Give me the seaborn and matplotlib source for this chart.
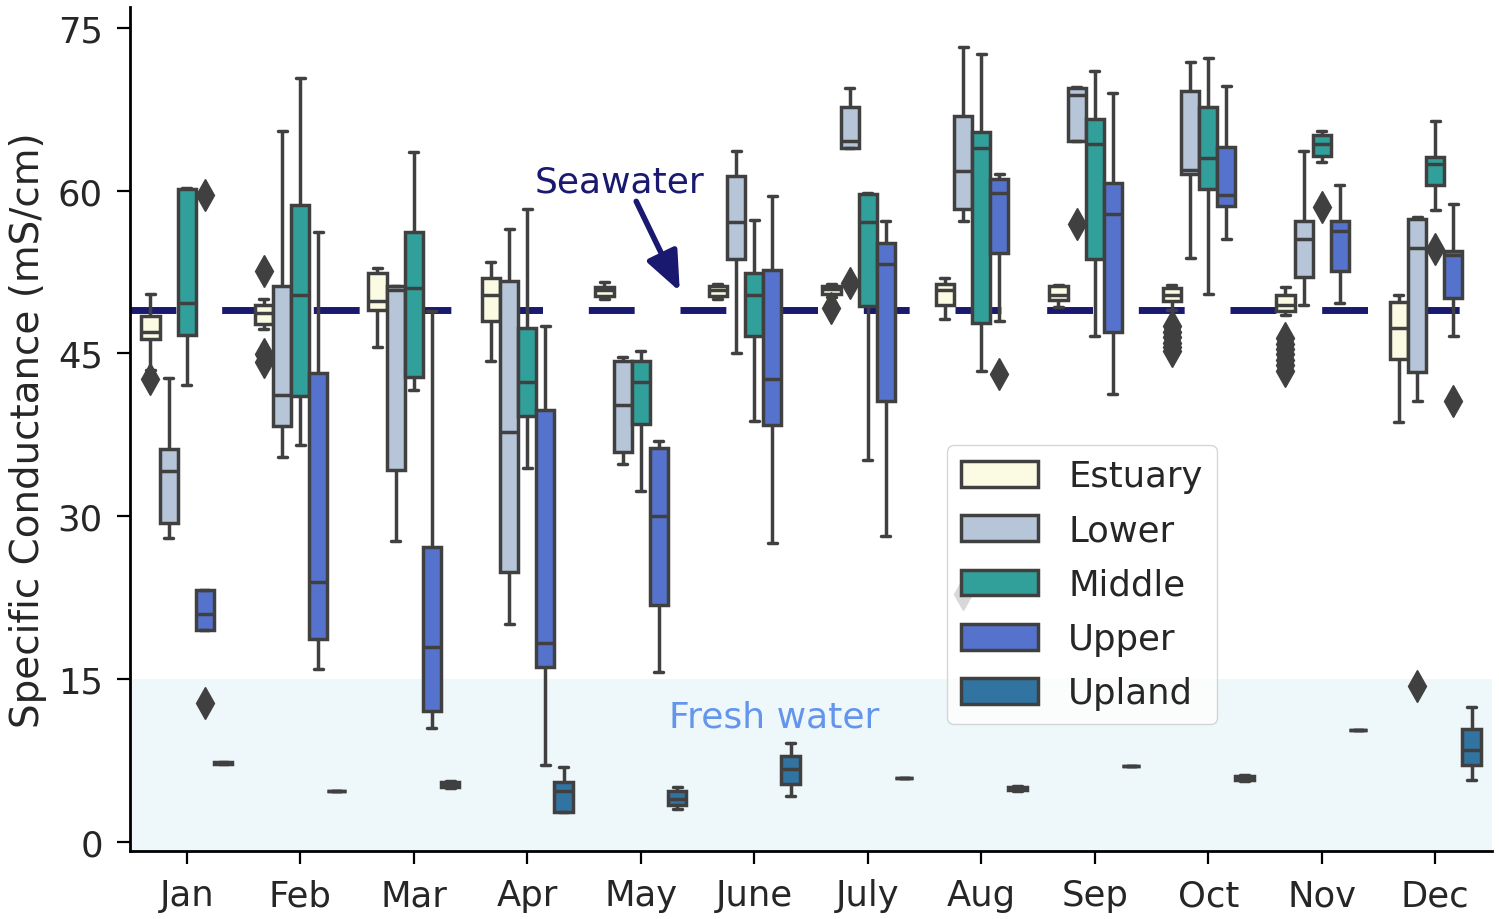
import numpy as np
import pandas as pd
import matplotlib
matplotlib.use("Agg")
import matplotlib.pyplot as plt
import seaborn as sns

# ---------------- data ----------------
months = ["Jan", "Feb", "Mar", "Apr", "May", "June", "July", "Aug", "Sep", "Oct", "Nov", "Dec"]
regions = ["Estuary", "Lower", "Middle", "Upper", "Upland"]

# box summaries per month: [whisker low, Q1, median, Q3, whisker high]
estuary_stats = [
    [43.5, 46.3, 47.0, 48.4, 50.5], [47.2, 47.7, 48.7, 49.5, 50.0], [45.6, 49.0, 49.8, 52.4, 52.9],
    [44.3, 48.0, 50.4, 51.9, 53.4], [50.0, 50.3, 50.8, 51.1, 51.6], [50.0, 50.3, 50.8, 51.2, 51.4],
    [50.2, 50.5, 50.9, 51.2, 51.4], [48.2, 49.5, 50.8, 51.4, 51.9], [49.3, 49.9, 50.4, 51.2, 51.3],
    [49.0, 49.8, 50.4, 51.0, 51.3], [48.5, 48.9, 49.5, 50.4, 51.1], [38.7, 44.5, 47.3, 49.7, 50.4],
]
lower_stats = [
    [28.0, 29.4, 34.2, 36.2, 42.7], [35.5, 38.3, 41.2, 51.2, 65.5], [27.7, 34.3, 50.8, 51.2, 51.2],
    [20.1, 24.9, 37.8, 51.7, 56.5], [34.8, 35.9, 40.2, 44.3, 44.7], [45.0, 53.7, 57.1, 61.3, 63.6],
    [63.9, 63.9, 64.6, 67.7, 69.4], [57.2, 58.3, 61.8, 66.9, 73.2], [64.6, 64.6, 68.8, 69.4, 69.5],
    [53.8, 61.5, 61.9, 69.2, 71.8], [49.5, 52.0, 55.5, 57.2, 63.6], [40.6, 43.3, 54.7, 57.4, 57.6],
]
middle_stats = [
    [42.1, 46.7, 49.6, 60.1, 60.2], [36.6, 41.1, 50.4, 58.7, 70.4], [41.6, 42.8, 51.0, 56.2, 63.5],
    [34.4, 39.2, 42.4, 47.3, 58.3], [32.3, 38.5, 42.4, 44.3, 45.2], [38.8, 46.6, 50.4, 52.4, 57.3],
    [35.2, 49.4, 57.1, 59.7, 59.8], [43.4, 47.8, 63.9, 65.4, 72.6], [46.6, 53.7, 64.3, 66.6, 71.0],
    [50.5, 60.1, 63.0, 67.7, 72.2], [62.6, 63.2, 64.3, 65.1, 65.5], [58.2, 60.5, 62.4, 63.1, 66.4],
]
upper_stats = [
    [19.5, 19.5, 21.0, 23.2, 23.2], [15.9, 18.7, 23.9, 43.2, 56.2], [10.5, 12.1, 18.0, 27.2, 48.9],
    [7.1, 16.1, 18.3, 39.8, 47.5], [15.7, 21.8, 30.0, 36.3, 36.9], [27.5, 38.4, 42.6, 52.7, 59.5],
    [28.2, 40.6, 53.2, 55.2, 57.2], [48.0, 54.2, 59.8, 61.1, 61.5], [41.3, 47.0, 57.8, 60.7, 69.0],
    [55.5, 58.6, 59.6, 64.0, 69.6], [49.6, 52.6, 56.3, 57.2, 60.5], [46.6, 50.1, 54.1, 54.4, 58.8],
]
upland_stats = [
    [7.2, 7.2, 7.3, 7.4, 7.4], [4.7, 4.7, 4.7, 4.7, 4.7], [5.0, 5.1, 5.3, 5.5, 5.6],
    [2.8, 2.8, 4.7, 5.5, 6.9], [3.0, 3.4, 4.0, 4.7, 5.1], [4.2, 5.3, 6.7, 7.9, 9.1],
    [5.9, 5.9, 5.9, 5.9, 5.9], [4.7, 4.75, 4.9, 5.1, 5.15], [7.0, 7.0, 7.0, 7.0, 7.0],
    [5.6, 5.7, 5.9, 6.1, 6.2], [10.3, 10.3, 10.3, 10.3, 10.3], [5.7, 7.1, 8.5, 10.4, 12.4],
]

# outliers per month
estuary_out = [[42.6], [52.6, 44.9, 44.2], [], [], [], [], [49.2], [], [],
               [47.5, 47.0, 46.5, 46.0, 45.6, 45.2], [46.4, 45.9, 45.4, 44.9, 44.4, 43.9, 43.4], []]
lower_out = [[], [], [], [], [], [], [51.5], [22.8], [56.9], [], [], [14.4]]
middle_out = [[], [], [], [], [], [], [], [], [], [], [58.5], [54.6]]
upper_out = [[59.6, 12.8], [], [], [], [], [], [], [43.1], [], [], [], [40.6]]
upland_out = [[] for _ in months]

seawater_level = 49
fresh_water_top = 15

palette = ["lightyellow", "lightsteelblue", "lightseagreen", "royalblue", "#1f77b4"]
navy = "#191970"
linecol = "#404040"


def expand(stats, fl):
    """Observations that reproduce the given five-number box summary."""
    lo, q1, med, q3, hi = stats
    return [lo] + [q1] * 20 + [med] * 21 + [q3] * 20 + [hi] + list(fl)


rows = []
all_stats = [estuary_stats, lower_stats, middle_stats, upper_stats, upland_stats]
all_out = [estuary_out, lower_out, middle_out, upper_out, upland_out]
for region, st_list, out_list in zip(regions, all_stats, all_out):
    for m, st, fl in zip(months, st_list, out_list):
        for v in expand(st, fl):
            rows.append((m, region, v))
df = pd.DataFrame(rows, columns=["Month", "Region", "Value"])

# ---------------- plot ----------------
sns.set_style("ticks")
plt.rcParams["font.family"] = ["DejaVu Sans"]

fig = plt.figure(figsize=(14.99, 9.2), dpi=100)
ax = fig.add_axes([130 / 1499, 68 / 920, 1362 / 1499, 844 / 920])

ax.axhspan(-2, fresh_water_top, color="#eef7f9", lw=0, zorder=0)
ax.axhline(seawater_level, color=navy, lw=5, ls=(0, (6.6, 6.6)), zorder=1.5)

sns.boxplot(
    data=df, x="Month", y="Value", hue="Region",
    order=months, hue_order=regions, palette=palette, saturation=0.75,
    width=0.8, linewidth=2.5, linecolor=linecol, fliersize=16,
    flierprops=dict(marker="d", markerfacecolor=linecol, markeredgecolor=linecol,
                    markersize=16),
    ax=ax,
)

ax.set_xlim(-0.5, 11.5)
ax.set_ylim(-0.83, 76.9)
ax.set_yticks([0, 15, 30, 45, 60, 75])
ax.set_xlabel("")
ax.set_ylabel("Specific Conductance (mS/cm)", fontsize=28, labelpad=8)
ax.tick_params(axis="both", labelsize=25.5, length=9.5, width=1.6, pad=10, color="black")
for s in ["left", "bottom"]:
    ax.spines[s].set_linewidth(2)
    ax.spines[s].set_color("black")
sns.despine(ax=ax)

ax.text(3.81, 59.9, "Seawater", color=navy, fontsize=26, ha="center", va="baseline")
ax.annotate("", xy=(4.344, 50.7), xytext=(3.96, 59.0),
            arrowprops=dict(arrowstyle="-|>,head_length=1.2,head_width=0.5", color=navy,
                            lw=4, shrinkA=0, shrinkB=0, mutation_scale=20))
ax.text(5.18, 10.67, "Fresh water", color="cornflowerblue", fontsize=26,
        ha="center", va="baseline")

old = ax.get_legend()
handles = old.legend_handles
labels = [t.get_text() for t in old.get_texts()]
old.remove()
ax.legend(handles, labels, loc="lower left", bbox_to_anchor=(0.6, 0.15), borderaxespad=0,
          fontsize=25.5, handlelength=2.16, handleheight=0.75, handletextpad=0.86,
          labelspacing=0.57, borderpad=0.4, frameon=True)

fig.savefig("out.png", dpi=100)
